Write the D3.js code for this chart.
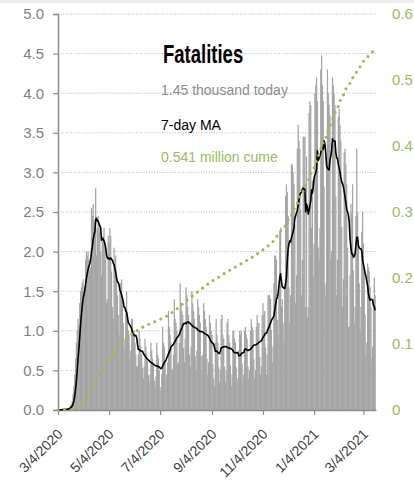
<!DOCTYPE html>
<html><head><meta charset="utf-8">
<script src="https://cdn.jsdelivr.net/npm/d3@7"></script>
<style>
html,body{margin:0;padding:0;background:#fff;}
svg{display:block;}
text{font-family:"Liberation Sans",Arial,sans-serif;}
</style></head>
<body>
<svg id="c" width="414" height="493"></svg>
<script>
// ---------- data ----------
const startDate = "3/4/2020";
// daily fatalities, thousands (one value per day from 3/4/2020)
const dailyDeaths = [
 0,0,0.01,0,
 0.01,0.01,0.01,0.01,0.01,0.01,0.01,
 0.01,0.02,0.03,0.04,0.06,0.08,0.11,
 0.2,0.3,0.45,0.65,0.85,1.0,1.15,
 1.05,1.35,1.5,1.55,1.6,1.65,1.5,
 1.45,1.9,2.0,1.95,2.0,1.9,1.75,
 1.8,2.55,2.45,2.6,2.4,2.2,2.8,
 1.95,2.3,2.45,2.35,2.25,2.0,1.7,
 2.15,2.2,2.3,2.1,1.9,1.35,1.4,
 2.2,2.1,2.3,2.2,1.75,1.3,1.15,
 2.05,1.75,1.95,1.7,1.45,1.2,0.95,
 1.6,1.6,1.65,1.45,1.1,0.75,0.9,
 1.3,1.5,1.2,1.0,0.95,0.65,0.75,
 1.15,1.15,1.0,1.0,0.85,0.7,0.55,
 0.55,0.7,1.0,0.9,0.8,0.7,0.53,
 0.4,0.55,0.9,0.8,0.7,0.62,0.44,
 0.35,0.45,0.85,0.75,0.65,0.57,0.37,
 0.3,0.42,0.85,0.7,0.65,0.5,0.29,
 0.25,0.45,1.05,0.85,0.8,0.6,0.41,
 0.45,0.6,1.25,1.05,0.95,0.85,0.52,
 0.5,0.7,1.4,1.15,1.1,1.0,0.59,
 0.6,0.85,1.6,1.35,1.25,1.2,0.78,
 0.6,0.9,1.55,1.45,1.3,1.2,0.7,
 0.55,0.8,1.5,1.35,1.25,1.15,0.68,
 0.5,0.75,1.4,1.3,1.2,1.1,0.68,
 0.5,0.7,1.35,1.25,1.15,1.05,0.65,
 0.45,0.6,1.2,1.1,1.0,0.95,0.58,
 0.4,0.3,0.85,1.15,0.95,0.85,0.54,
 0.35,0.5,1.15,1.2,0.95,0.9,0.55,
 0.35,0.5,1.1,1.15,0.95,0.85,0.56,
 0.3,0.45,1.0,1.0,0.9,0.85,0.54,
 0.35,0.4,0.75,1.0,0.95,1.0,0.59,
 0.35,0.45,1.0,1.05,0.95,0.9,0.55,
 0.4,0.5,1.0,1.15,1.05,1.0,0.64,
 0.4,0.5,1.05,1.2,1.1,1.1,0.67,
 0.45,0.55,1.2,1.35,1.2,1.25,0.79,
 0.45,0.7,1.45,1.45,1.45,1.4,1.01,
 0.6,0.8,1.6,1.95,1.95,1.9,1.14,
 0.95,1.55,2.25,2.3,1.3,1.4,1.1,
 0.85,1.55,2.7,2.85,2.75,2.45,1.55,
 1.1,1.45,3.1,3.1,3.0,2.85,2.34,
 1.35,1.7,3.3,3.6,3.4,3.3,2.53,
 1.45,1.9,3.45,3.45,3.45,1.3,3.2,
 1.17,1.3,3.75,3.9,3.85,2.3,2.9,
 1.7,2.1,4.0,4.1,4.2,3.9,2.05,
 1.9,2.3,4.3,4.48,4.1,3.9,2.82,
 1.6,1.45,3.2,4.3,4.0,3.85,3.72,
 1.9,2.0,4.2,4.1,4.0,3.85,2.7,
 1.45,1.9,3.7,3.8,3.6,3.4,2.31,
 1.3,1.65,3.25,3.3,3.1,2.85,2.05,
 1.05,1.05,1.7,2.6,2.5,2.85,1.76,
 1.1,1.3,2.45,3.3,2.5,2.1,1.6,
 1.0,1.3,2.25,2.5,2.1,1.75,1.21,
 0.7,0.85,1.85,1.8,1.75,1.55,1.3,
 0.65,0.8,1.4,1.67,1.45
];
const xTickLabels = ["3/4/2020","5/4/2020","7/4/2020","9/4/2020","11/4/2020","1/4/2021","3/4/2021"];
const leftTicks = [0,0.5,1,1.5,2,2.5,3,3.5,4,4.5,5];
const rightTicks = [0,0.1,0.2,0.3,0.4,0.5,0.6];
const titleText = "Fatalities";
const legendTexts = ["1.45 thousand today","7-day MA","0.541 million cume"];

// ---------- derived ----------
const parse = d3.utcParse("%m/%d/%Y");
const t0 = parse(startDate);
const days = dailyDeaths.map((v,i)=>({date:d3.utcDay.offset(t0,i), v}));
days.forEach((d,i)=>{
  const s = dailyDeaths.slice(Math.max(0,i-6), i+1);
  d.ma = d3.mean(s);
});
let run = 0;
days.forEach(d=>{ run += d.v; d.cum = run/1000; });

// ---------- chart ----------
const svg = d3.select("#c");
const L = 58, R = 376, T = 14, B = 410;
const x = d3.scaleUtc().domain([t0, d3.utcDay.offset(t0, dailyDeaths.length)]).range([L, R]);
const y = d3.scaleLinear().domain([0,5]).range([B,T]);
const y2 = d3.scaleLinear().domain([0,0.6]).range([B,T]);
const step = x(d3.utcDay.offset(t0,1)) - x(t0);
const barW = step * 1.5;

svg.append("rect").attr("x",0).attr("y",0).attr("width",414).attr("height",3).attr("fill","#f0f0f0");

// gridlines
svg.append("g").selectAll("line").data(leftTicks.filter(t=>t>0)).join("line")
  .attr("x1",L).attr("x2",R).attr("y1",d=>y(d)).attr("y2",d=>y(d))
  .attr("stroke","#b4b4b4").attr("stroke-width",1).attr("stroke-dasharray","1,1.6");

// bars
svg.append("g").selectAll("rect").data(days).join("rect")
  .attr("x",d=>x(d.date)-barW/2).attr("width",barW)
  .attr("y",d=>y(d.v)).attr("height",d=>B-y(d.v))
  .attr("fill","#a5a5a5");

// left axis
const gL = svg.append("g").attr("transform",`translate(${L},0)`)
  .call(d3.axisLeft(y).tickValues(leftTicks).tickFormat(d3.format(".1f")).tickSize(5).tickPadding(9));
gL.select(".domain").attr("stroke","#8c8c8c").attr("stroke-width",1.5);
gL.selectAll(".tick line").attr("stroke","#8c8c8c").attr("stroke-width",1.2);
gL.selectAll("text").attr("fill","#7f7f7f").style("font-size","15px").style("font-family","Liberation Sans, Arial, sans-serif");

// bottom axis
const tickDates = xTickLabels.map(parse);
const gB = svg.append("g").attr("transform",`translate(0,${B})`)
  .call(d3.axisBottom(x).tickValues(tickDates).tickFormat((d,i)=>xTickLabels[i]).tickSize(5).tickSizeOuter(0));
gB.select(".domain").attr("stroke","#8c8c8c").attr("stroke-width",1.5);
gB.selectAll(".tick line").attr("stroke","#8c8c8c").attr("stroke-width",1.2);
gB.selectAll("text")
  .attr("fill","#404040").style("font-size","14px").style("font-family","Liberation Sans, Arial, sans-serif")
  .attr("text-anchor","end").attr("y",0).attr("dy",0)
  .attr("transform","translate(5,25) rotate(-45)");

// right axis labels
svg.append("g").selectAll("text").data(rightTicks).join("text")
  .attr("x",392).attr("y",d=>y2(d)).attr("dy","0.35em")
  .attr("fill","#9bbb59").style("font-size","15px")
  .text(d=>d===0?"0":d3.format(".1f")(d));

// 7-day MA
svg.append("path").datum(days)
  .attr("d", d3.line().x(d=>x(d.date)).y(d=>y(d.ma)))
  .attr("fill","none").attr("stroke","#000").attr("stroke-width",1.6).attr("stroke-linejoin","round");

// cumulative
svg.append("path").datum(days)
  .attr("d", d3.line().x(d=>x(d.date)).y(d=>y2(d.cum)))
  .attr("fill","none").attr("stroke","#9bbb59").attr("stroke-width",3.2)
  .attr("stroke-linecap","round").attr("stroke-dasharray","0,6.6");

// legend / title
svg.append("text").attr("transform","translate(163,63) scale(0.74,1)")
  .attr("font-weight","bold").style("font-size","25px").attr("fill","#000").text(titleText);
const legColors = ["#8c8c8c","#000","#9bbb59"];
const legY = [95,130,162];
svg.append("g").selectAll("text").data(legendTexts).join("text")
  .attr("x",161).attr("y",(d,i)=>legY[i]).attr("fill",(d,i)=>legColors[i])
  .style("font-size","14px").text(d=>d);
</script>
</body></html>
